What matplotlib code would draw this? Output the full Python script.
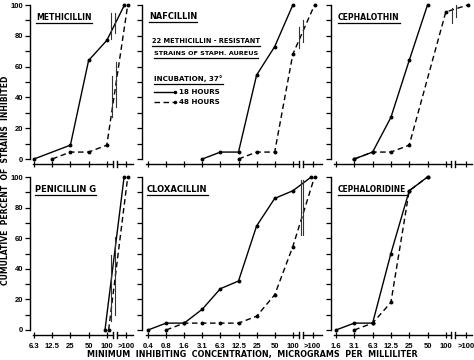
import matplotlib
matplotlib.use('Agg')
import matplotlib.pyplot as plt
from matplotlib.lines import Line2D
from matplotlib import font_manager
import matplotlib.transforms as mtrans

W, H = 474, 360
DPI = 100
PT = 72.0 / DPI

_names = {f.name for f in font_manager.fontManager.ttflist}
TICK_FONT = 'Liberation Sans Narrow' if 'Liberation Sans Narrow' in _names else 'Liberation Sans'
TEXT_FONT = 'DejaVu Sans'
plt.rcParams['font.family'] = TEXT_FONT

# ---------------- data ----------------
left_categories = ['6.3', '12.5', '25', '50', '100', '>100']
mid_categories = ['0.4', '0.8', '1.6', '3.1', '6.3', '12.5', '25', '50', '100', '>100']
right_categories = ['1.6', '3.1', '6.3', '12.5', '25', '50', '100', '>100']

meth_18_x = ['6.3', '25', '50', '100', '>100']
meth_18_y = [0, 9, 64, 77, 100]
meth_48_x = ['12.5', '25', '50', '100', '>100']
meth_48_y = [0, 4.5, 4.5, 9, 100]

naf_18_x = ['3.1', '6.3', '12.5', '25', '50', '100']
naf_18_y = [0, 4.5, 4.5, 54.5, 73, 100]
naf_48_x = ['12.5', '25', '50', '100', '>100']
naf_48_y = [0, 4.5, 4.5, 68, 100]

cepht_18_x = ['3.1', '6.3', '12.5', '25', '50']
cepht_18_y = [0, 4.5, 27, 64, 100]
cepht_48_x = ['3.1', '6.3', '12.5', '25', '100', '>100']
cepht_48_y = [0, 4.5, 4.5, 9, 95.5, 100]

pen_18_x = ['100', '>100']
pen_18_y = [0, 100]
pen_48_x = ['100', '>100']
pen_48_y = [0, 100]

clox_18_x = ['0.4', '0.8', '1.6', '3.1', '6.3', '12.5', '25', '50', '100', '>100']
clox_18_y = [0, 4.5, 4.5, 13.6, 27, 32, 68, 86, 91, 100]
clox_48_x = ['0.8', '1.6', '3.1', '6.3', '12.5', '25', '50', '100', '>100']
clox_48_y = [0, 4.5, 4.5, 4.5, 4.5, 9, 23, 54.5, 100]

cephr_18_x = ['1.6', '3.1', '6.3', '12.5', '25', '50']
cephr_18_y = [0, 4.5, 4.5, 50, 91, 100]
cephr_48_x = ['3.1', '6.3', '12.5', '25', '50']
cephr_48_y = [0, 4.5, 18, 91, 100]

y_ticks = list(range(0, 101, 10))

# ---------------- layout (pixels) ----------------
col_layout = {
    0: dict(first=34, step=18.2, left=33, right=133, gt=5.05, brk=4.45, yspine=30),
    1: dict(first=148, step=18.1, left=146, right=322, gt=9.1, brk=8.45, yspine=142),
    2: dict(first=336, step=18.3, left=334, right=472, gt=7.1, brk=6.4, yspine=331),
}
row_layout = {0: dict(top=5, bottom=159), 1: dict(top=177, bottom=330)}

panels = [
    dict(title='METHICILLIN', row=0, col=0, cats=left_categories,
         s18=(meth_18_x, meth_18_y), s48=(meth_48_x, meth_48_y), shift=0.0,
         breaks=[(4.23, 78, 95), (4.45, 82, 95), (4.29, 27, 54), (4.5, 34, 63)],
         tpos=(36, 20, 56)),
    dict(title='NAFCILLIN', row=0, col=1, cats=mid_categories,
         s18=(naf_18_x, naf_18_y), s48=(naf_48_x, naf_48_y), shift=0.0,
         breaks=[(8.34, 72, 86), (8.56, 76, 90)],
         tpos=(149, 19, 49)),
    dict(title='CEPHALOTHIN', row=0, col=2, cats=right_categories,
         s18=(cepht_18_x, cepht_18_y), s48=(cepht_48_x, cepht_48_y), shift=0.0,
         breaks=[(6.35, 88, 98), (6.55, 92, 100)],
         tpos=(338, 20, 62)),
    dict(title='PENICILLIN G', row=1, col=0, cats=left_categories,
         s18=(pen_18_x, pen_18_y), s48=(pen_48_x, pen_48_y), shift=0.1,
         breaks=[(4.23, 6, 49), (4.45, 10, 61)],
         tpos=(35, 192, 62)),
    dict(title='CLOXACILLIN', row=1, col=1, cats=mid_categories,
         s18=(clox_18_x, clox_18_y), s48=(clox_48_x, clox_48_y), shift=0.0,
         breaks=[(8.45, 62, 98), (8.56, 62, 98)],
         tpos=(147, 192, 61)),
    dict(title='CEPHALORIDINE', row=1, col=2, cats=right_categories,
         s18=(cephr_18_x, cephr_18_y), s48=(cephr_48_x, cephr_48_y), shift=0.0,
         breaks=[],
         tpos=(338, 192, 69)),
]

fig = plt.figure(figsize=(W / DPI, H / DPI), dpi=DPI)
fig.patch.set_facecolor('white')

LW = 1.0
fit_texts = []


def add_text(x, y, s, width=None, underline=None, ha='left', rotation=0, size=5.5, height=None):
    t = fig.text(x / W, 1 - y / H, s, fontsize=size, fontweight='bold', ha=ha,
                 va='baseline' if rotation == 0 else 'center', rotation=rotation,
                 family=TEXT_FONT, color='black')
    fit_texts.append((t, width, height, underline))
    return t


for p in panels:
    cl = col_layout[p['col']]
    rl = row_layout[p['row']]
    ax = fig.add_axes([cl['left'] / W, 1 - rl['bottom'] / H,
                       (cl['right'] - cl['left']) / W, (rl['bottom'] - rl['top']) / H])
    axh = rl['bottom'] - rl['top']
    x0 = (cl['left'] - cl['first']) / cl['step']
    x1 = (cl['right'] - cl['first']) / cl['step']
    ax.set_xlim(x0, x1)
    ax.set_ylim(0, 100)
    ax.patch.set_alpha(0)
    for s in ('top', 'right'):
        ax.spines[s].set_visible(False)
    ax.spines['left'].set_position(('outward', (cl['left'] - cl['yspine']) * PT))
    ax.spines['left'].set_linewidth(LW)
    ax.spines['bottom'].set_position(('outward', 5 * PT))
    ax.spines['bottom'].set_color('none')

    pos = {c: i for i, c in enumerate(p['cats'][:-1])}
    pos['>100'] = cl['gt']
    ax.set_xticks([pos[c] for c in p['cats']])
    if p['row'] == 1:
        ax.set_xticklabels(p['cats'], fontsize=5.5, family=TICK_FONT, fontweight='bold')
    else:
        ax.set_xticklabels([])
    ax.tick_params(axis='x', direction='inout', length=4, width=0.9, pad=3.5, color='black')
    ax.set_yticks(y_ticks)
    if p['col'] == 0:
        ax.set_yticklabels([str(v) if v % 20 == 0 else '' for v in y_ticks],
                           fontsize=5.5, family=TICK_FONT, fontweight='bold')
    else:
        ax.set_yticklabels([])
    ax.tick_params(axis='y', direction='out', length=3.5, width=0.9, pad=1.5, color='black')

    # bottom axis line with break
    trans = ax.get_xaxis_transform() + mtrans.ScaledTranslation(0, -5 / DPI, fig.dpi_scale_trans)
    g = 0.09
    ax.plot([x0, cl['brk'] - g], [0, 0], color='black', lw=LW, transform=trans, clip_on=False)
    ax.plot([cl['brk'] + g, x1], [0, 0], color='black', lw=LW, transform=trans, clip_on=False)
    dy = 3.0 / axh
    for bx in (cl['brk'] - g, cl['brk'] + g):
        ax.plot([bx, bx], [-dy, dy], color='black', lw=LW, transform=trans, clip_on=False)

    # data series
    sx, sy = p['s18']
    xs = [pos[c] - p['shift'] + (-0.08 if (c == '>100' and p['shift'] == 0) else 0) for c in sx]
    ax.plot(xs, sy, color='black', lw=LW, marker='o', ms=1.8, clip_on=False)
    dx, dyv = p['s48']
    xd = [pos[c] + p['shift'] + (0.1 if (c == '>100' and p['shift'] == 0) else 0) for c in dx]
    ax.plot(xd, dyv, color='black', lw=LW, ls=(0, (4, 2.5)), marker='o', ms=1.8, clip_on=False)

    # break marks on the curves
    for bx, ylo, yhi in p['breaks']:
        ax.plot([bx, bx], [ylo, yhi], color='#333333', lw=0.8, clip_on=False)

    tx, ty, tw = p['tpos']
    add_text(tx, ty, p['title'], width=tw, underline=ty + 3)

# legend block in NAFCILLIN panel
add_text(152, 43, '22 METHICILLIN - RESISTANT', width=108, underline=45.5)
add_text(154, 55, 'STRAINS OF STAPH. AUREUS', width=104, underline=57.5)
add_text(154, 81, 'INCUBATION, 37°', width=68, underline=83.5)
add_text(179, 94, '18 HOURS', width=41)
add_text(179, 104, '48 HOURS', width=41)
fig.add_artist(Line2D([154 / W, 175 / W], [1 - 92 / H, 1 - 92 / H], color='black', lw=LW,
                      marker='o', ms=1.5, markevery=[1]))
fig.add_artist(Line2D([154 / W, 175 / W], [1 - 102 / H, 1 - 102 / H], color='black', lw=LW,
                      ls=(0, (4, 2.5)), marker='o', ms=1.5, markevery=[1]))

# axis titles
add_text(252, 357, 'MINIMUM  INHIBITING  CONCENTRATION,  MICROGRAMS  PER  MILLILITER',
         width=331, ha='center')
add_text(6, 180, 'CUMULATIVE  PERCENT  OF  STRAINS  INHIBITED', rotation=90, height=210, ha='center')

# fit text sizes and underline
fig.canvas.draw()
r = fig.canvas.get_renderer()
for t, w, h, u in fit_texts:
    bb = t.get_window_extent(r)
    if w is not None:
        t.set_fontsize(t.get_fontsize() * w / bb.width)
    elif h is not None:
        t.set_fontsize(t.get_fontsize() * h / bb.height)
fig.canvas.draw()
for t, w, h, u in fit_texts:
    if u is None:
        continue
    bb = t.get_window_extent(r)
    yy = 1 - u / H
    fig.add_artist(Line2D([bb.x0 / W, bb.x1 / W], [yy, yy], color='black', lw=0.9))

fig.savefig('out.png', dpi=DPI, facecolor='white')
